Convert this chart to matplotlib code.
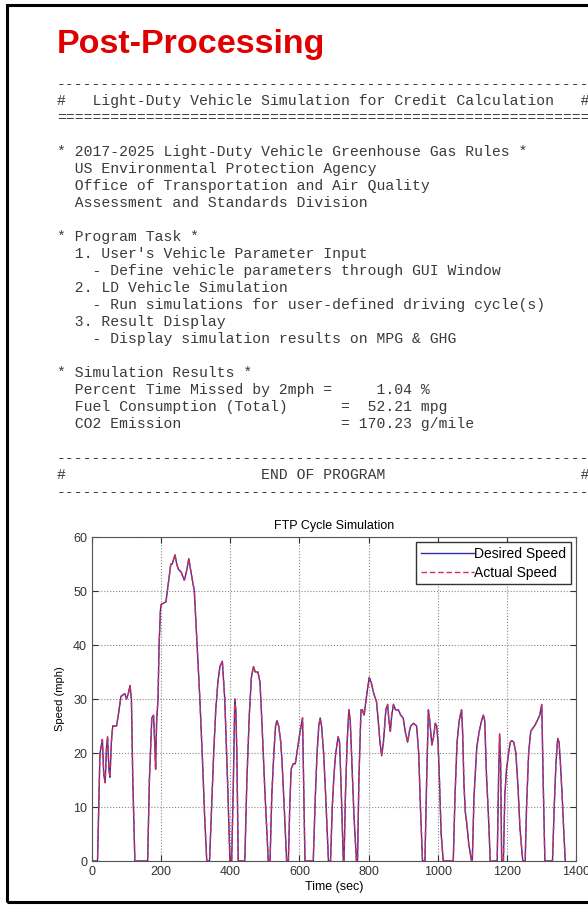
import matplotlib
matplotlib.use("Agg")
import matplotlib.pyplot as plt
from matplotlib.patches import Rectangle

W, H = 588, 905

# FTP cycle speed trace, breakpoints (sec, mph)
time_s = [0, 16, 23, 26, 30, 34, 38, 42, 45, 49, 52, 56, 60, 71, 76, 84, 95, 100, 105, 110,
          114, 118, 124, 161, 166, 173, 178, 182, 184, 187, 191, 194, 198, 200, 214, 220,
          228, 232, 240, 245, 250, 258, 267, 273, 280, 285, 296, 304, 312, 320, 326, 332,
          340, 346, 352, 358, 364, 370, 377, 381, 384, 392, 399, 404, 409, 413, 416, 419,
          423, 442, 448, 455, 461, 467, 472, 480, 486, 492, 500, 510, 515, 520, 526, 531,
          535, 540, 546, 550, 556, 563, 568, 572, 576, 582, 588, 595, 602, 609, 612, 616,
          640, 646, 651, 656, 660, 664, 670, 676, 684, 690, 695, 700, 705, 712, 716, 720,
          727, 729, 733, 738, 743, 747, 752, 758, 765, 768, 772, 778, 782, 787, 795, 802,
          808, 815, 823, 828, 833, 838, 843, 850, 855, 859, 863, 867, 872, 878, 886, 893,
          900, 906, 913, 918, 922, 930, 939, 945, 950, 956, 963, 968, 973, 977, 983, 988,
          993, 997, 1001, 1005, 1010, 1016, 1045, 1050, 1056, 1062, 1069, 1072, 1076, 1080,
          1084, 1090, 1098, 1100, 1105, 1113, 1120, 1127, 1132, 1136, 1141, 1147, 1152,
          1172, 1176, 1179, 1182, 1185, 1190, 1194, 1199, 1205, 1210, 1214, 1220, 1226,
          1232, 1238, 1246, 1253, 1257, 1263, 1269, 1274, 1280, 1288, 1295, 1301, 1305,
          1310, 1332, 1337, 1342, 1347, 1351, 1355, 1360, 1365, 1369]
desired_mph = [0, 0, 20, 21, 22.5, 16, 14.5, 21, 23, 17, 15.5, 22, 25, 25, 27, 30.5, 31, 30, 31, 32.5,
               30, 15, 0, 0, 15, 26.5, 27, 21, 17, 26, 30, 40, 46.5, 47.5, 48, 51,
               55, 55, 56.7, 55, 54, 53.5, 52, 53.5, 56, 54, 50, 40, 30, 18, 8, 0,
               0, 10, 20, 28, 33, 36, 37, 33, 30, 15, 0, 0, 15, 30, 28, 20,
               0, 0, 15, 27, 34, 36, 35, 35, 33, 25, 13, 0, 0, 12, 20, 25,
               26, 25, 22, 18, 10, 0, 0, 10, 17, 18, 18, 21, 24, 26.5, 15, 0,
               0, 12, 20, 25, 26.5, 25, 20, 12, 0, 0, 10, 16, 20, 23, 22, 15,
               0, 0, 12, 22, 28, 26, 18, 8, 0, 0, 15, 28, 28, 27, 31, 34,
               33, 31, 29.5, 26, 22, 19.5, 22, 28, 29, 26, 24, 27, 29, 28, 28, 27,
               26.5, 24, 22, 24, 25, 25.5, 25, 20, 10, 0, 0, 15, 28, 26, 21.5, 23,
               25.5, 25, 22, 15, 5, 0, 0, 12, 22, 26, 28, 24, 14, 9,
               7, 3, 0, 0, 12, 21, 24, 26, 27, 26, 16, 8, 0,
               0, 15, 23.5, 18, 0, 0, 12, 17, 20, 22, 22.3, 22, 20,
               14, 6, 0, 0, 10, 20, 24, 24.5, 25, 26, 27, 29, 15,
               0, 0, 10, 18, 22.7, 22, 18, 12, 5, 0]
actual_mph = list(desired_mph)

x_ticks = [0, 200, 400, 600, 800, 1000, 1200, 1400]
y_ticks = [0, 10, 20, 30, 40, 50, 60]

rule = "-" * 64
text_lines = [
    rule,
    "#   Light-Duty Vehicle Simulation for Credit Calculation   #",
    "=" * 64,
    "",
    "* 2017-2025 Light-Duty Vehicle Greenhouse Gas Rules *",
    "  US Environmental Protection Agency",
    "  Office of Transportation and Air Quality",
    "  Assessment and Standards Division",
    "",
    "* Program Task *",
    "  1. User's Vehicle Parameter Input",
    "    - Define vehicle parameters through GUI Window",
    "  2. LD Vehicle Simulation",
    "    - Run simulations for user-defined driving cycle(s)",
    "  3. Result Display",
    "    - Display simulation results on MPG & GHG",
    "",
    "* Simulation Results *",
    "  Percent Time Missed by 2mph =     1.04 %",
    "  Fuel Consumption (Total)      =  52.21 mpg",
    "  CO2 Emission                  = 170.23 g/mile",
    "",
    rule,
    "#                      END OF PROGRAM                      #",
    rule,
]


def fx(x):
    return x / W


def fy(y):
    return 1 - y / H


fig = plt.figure(figsize=(W / 100, H / 100), dpi=100)

# frame round the slide
fig.add_artist(Rectangle((fx(7), fy(902)), 1.2, fy(5.5) - fy(902),
                         transform=fig.transFigure, fill=False, lw=2.2, ec="black"))

fig.text(fx(57), fy(52.5), "Post-Processing", color="#e00000", fontsize=24.5,
         fontweight="bold", family="Liberation Sans", va="baseline")

for k, line in enumerate(text_lines):
    if line:
        fig.text(fx(57), fy(84 + 16.97 * k + 4.5), line, family="Liberation Mono",
                 fontsize=10.6, va="baseline", color="#3a3a3a")

# speed plot
ax = fig.add_axes([fx(92), fy(861), (576 - 92) / W, (861 - 537) / H])
ax.plot(time_s, desired_mph, color="#3030b0", lw=1.0, label="Desired Speed")
ax.plot(time_s, actual_mph, color="#d03050", lw=1.0, ls="--", dashes=(4, 2),
        label="Actual Speed")
ax.set_xlim(0, 1400)
ax.set_ylim(0, 60)
ax.set_xticks(x_ticks)
ax.set_yticks(y_ticks)
ax.tick_params(direction="in", top=True, right=True, length=4, labelsize=9,
               colors="#333333")
for lab in ax.get_xticklabels() + ax.get_yticklabels():
    lab.set_family("Liberation Sans")
for s in ax.spines.values():
    s.set_color("#555555")
ax.grid(True, ls=":", color="#888888", lw=0.8)
ax.set_title("FTP Cycle Simulation", fontsize=9, family="Liberation Sans", pad=6)
ax.set_xlabel("Time (sec)", fontsize=9, family="Liberation Sans", labelpad=2)
ax.set_ylabel("Speed (mph)", fontsize=8, family="Liberation Sans", labelpad=6)
ax.legend(loc="upper right", prop={"family": "Liberation Sans", "size": 10},
          fancybox=False, edgecolor="#333333", framealpha=1, handlelength=3.8,
          handletextpad=0.05, labelspacing=0.35, borderaxespad=0.35, borderpad=0.35)

fig.savefig("out.png", dpi=100)
